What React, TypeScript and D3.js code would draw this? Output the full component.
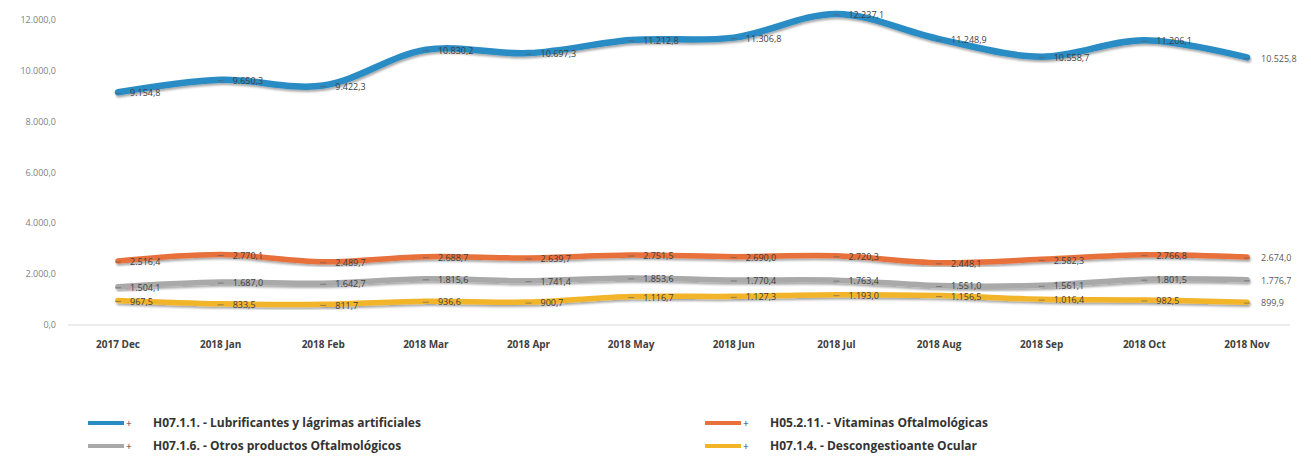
import React from "react";
import * as d3 from "d3";

const categories = ["2017 Dec", "2018 Jan", "2018 Feb", "2018 Mar", "2018 Apr", "2018 May", "2018 Jun", "2018 Jul", "2018 Aug", "2018 Sep", "2018 Oct", "2018 Nov"];
const lubricantes = [9154.8, 9650.3, 9422.3, 10830.2, 10697.3, 11212.8, 11306.8, 12237.1, 11248.9, 10558.7, 11206.1, 10525.8];
const vitaminas = [2516.4, 2770.1, 2489.7, 2688.7, 2639.7, 2751.5, 2690.0, 2720.3, 2448.1, 2582.3, 2766.8, 2674.0];
const otros = [1504.1, 1687.0, 1642.7, 1815.6, 1741.4, 1853.6, 1770.4, 1763.4, 1551.0, 1561.1, 1801.5, 1776.7];
const descongestionante = [967.5, 833.5, 811.7, 936.6, 900.7, 1116.7, 1127.3, 1193.0, 1156.5, 1016.4, 982.5, 899.9];
const yTicks = [0, 2000, 4000, 6000, 8000, 10000, 12000];

const series = [
  { name: "H07.1.1. - Lubrificantes y lágrimas artificiales", values: lubricantes, color: "#2a8cc4" },
  { name: "H05.2.11. - Vitaminas Oftalmológicas", values: vitaminas, color: "#e8703a" },
  { name: "H07.1.6. - Otros productos Oftalmológicos", values: otros, color: "#a9a9a9" },
  { name: "H07.1.4. - Descongestioante Ocular", values: descongestionante, color: "#f2b52a" },
];
const drawOrder = [0, 1, 2, 3];
const legendOrder = [0, 1, 2, 3];

const fmt = (v: number) => {
  const s = v.toFixed(1).split(".");
  const int = s[0].replace(/\B(?=(\d{3})+(?!\d))/g, ".");
  return int + "," + s[1];
};

export default function App() {
  const W = 1311, H = 461;
  const x = d3.scalePoint<string>().domain(categories).range([118, 1247]);
  const y = d3.scaleLinear().domain([0, 12000]).range([325, 20]);
  const line = d3.line<number>()
    .x((_, i) => x(categories[i])!)
    .y((d) => y(d))
    .curve(d3.curveCatmullRom.alpha(0.5));

  // label y positions with simple collision avoidance per category
  const labelY: number[][] = series.map((s) => s.values.map((v) => y(v) + 1));
  categories.forEach((_, i) => {
    const order = series.map((_, si) => si).sort((a, b) => labelY[a][i] - labelY[b][i]);
    for (let k = 1; k < order.length; k++) {
      const prev = labelY[order[k - 1]][i];
      const cur = labelY[order[k]][i];
      const minGap = 11;
      if (cur - prev < minGap) {
        const push = (minGap - (cur - prev)) / 2;
        labelY[order[k - 1]][i] = prev - push;
        labelY[order[k]][i] = cur + push;
      }
    }
  });

  const legendPos = [
    { x: 88, y: 423 },
    { x: 705, y: 423 },
    { x: 88, y: 446 },
    { x: 705, y: 446 },
  ];

  return (
    <svg width={W} height={H} style={{ position: "absolute", left: 0, top: 0, background: "#fff" }}>
      <defs>
        <filter id="sh" x="-5%" y="-50%" width="110%" height="200%">
          <feDropShadow dx="1" dy="2" stdDeviation="1.2" floodColor="#000" floodOpacity="0.35" />
        </filter>
      </defs>
      {yTicks.map((t) => (
        <text key={t} x={56} y={y(t)} dy="0.35em" textAnchor="end" fontFamily="Open Sans, sans-serif" fontSize={9} fill="#7f7f7f">
          {fmt(t)}
        </text>
      ))}
      <line x1={68} x2={1290} y1={y(0)} y2={y(0)} stroke="#d9d9d9" strokeWidth={1} />
      {categories.map((c) => (
        <text key={c} x={x(c)!} y={348} textAnchor="middle" fontFamily="Open Sans, sans-serif" fontWeight="bold" fontSize={10} fill="#404040">
          {c}
        </text>
      ))}
      {drawOrder.map((si) => {
        const s = series[si];
        return (
          <g key={si}>
            <path d={line(s.values)!} fill="none" stroke={s.color} strokeWidth={si === 0 ? 6.5 : 5.5} strokeLinecap="round" filter="url(#sh)" />
            {s.values.map((v, i) => (
              <line key={i} x1={x(categories[i])! - 3} x2={x(categories[i])! + 3} y1={y(v) + 1} y2={y(v) + 1} stroke="#595959" strokeWidth={1} opacity={0.6} />
            ))}
          </g>
        );
      })}
      {drawOrder.map((si) => {
        const s = series[si];
        return (
          <g key={"l" + si}>
            {s.values.map((v, i) => (
              <text key={i} x={x(categories[i])! + (i === categories.length - 1 ? 14 : 12)} y={labelY[si][i]} dy="0.35em" fontFamily="Open Sans, sans-serif" fontSize={9} fill={i === categories.length - 1 ? "#595959" : "#404040"}>
                {fmt(v)}
              </text>
            ))}
          </g>
        );
      })}
      {legendOrder.map((si, k) => {
        const s = series[si];
        const p = legendPos[k];
        return (
          <g key={"lg" + si}>
            <line x1={p.x} x2={p.x + 36} y1={p.y} y2={p.y} stroke={s.color} strokeWidth={4} />
            <text x={p.x + 38} y={p.y} dy="0.35em" fontFamily="Open Sans, sans-serif" fontSize={10} fill="#404040">+</text>
            <text x={p.x + 65} y={p.y} dy="0.35em" fontFamily="Open Sans, sans-serif" fontWeight="bold" fontSize={12} fill="#333">
              {s.name}
            </text>
          </g>
        );
      })}
    </svg>
  );
}
